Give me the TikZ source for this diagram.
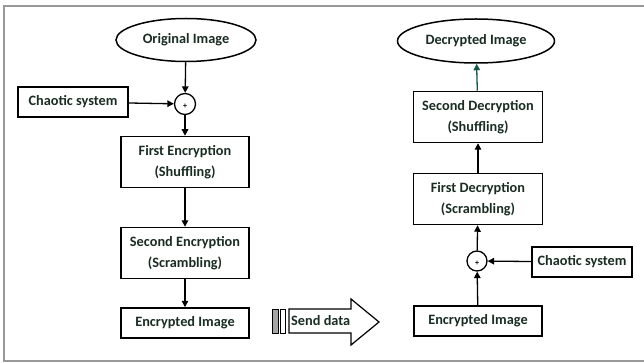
\documentclass[tikz,border=0pt]{standalone}
\usepackage{fontspec}
\setmainfont{Carlito}
\usepackage{tikz}
\usetikzlibrary{positioning,arrows.meta,shapes.geometric}

\definecolor{textdk}{RGB}{25,45,35}
\definecolor{linkgr}{RGB}{20,90,75}

\begin{document}
\begin{tikzpicture}[
  x=1pt, y=-1pt,
  >={Triangle[length=6.5pt,width=6.5pt]},
  every node/.style={font=\fontsize{14.3}{21}\selectfont\bfseries, text=textdk},
  imgellipse/.style={ellipse, draw, line width=1.5pt, inner sep=0pt},
  stagebox/.style={draw, line width=1.5pt, minimum width=128pt, minimum height=51pt, inner sep=2pt, align=center},
  flatbox/.style={draw, line width=1.5pt, minimum height=30pt, inner sep=2pt},
  mixer/.style={circle, draw, line width=1.3pt, minimum size=21pt, inner sep=0pt},
  plus/.style={font=\fontsize{8}{8}\selectfont\bfseries, text=black, inner sep=0pt},
  link/.style={->, line width=1.3pt},
]
  \useasboundingbox (0,0) rectangle (644,363);
  % Frame
  \draw[gray!80, line width=1.5pt] (644,6) -- (4,6) -- (4,361) -- (644,361);

  % Encryption side
  \node[imgellipse, minimum width=140pt, minimum height=43pt] (orig) at (186,40) {Original Image};
  \node[mixer] (mixL) at (185,104) {};
  \node[plus] (plusL) at (185,106) {+};
  \node[flatbox, minimum width=110pt] (chaosL) at (73,102) {Chaotic system};
  \node[stagebox] (enc1) at (185,162) {First Encryption\\(Shuffling)};
  \node[stagebox] (enc2) at (185,253) {Second Encryption\\(Scrambling)};
  \node[flatbox, minimum width=128pt] (cipherL) at (185,323) {Encrypted Image};

  \draw[link] (orig) -- (mixL);
  \draw[link] (chaosL) -- (mixL);
  \draw[link] (mixL) -- (enc1);
  \draw[link] (enc1) -- (enc2);
  \draw[link] (enc2) -- (cipherL);

  % Send data arrow
  \draw[fill=gray!70, line width=0.8pt] (272,309) rectangle (278,333);
  \draw[line width=0.8pt] (280,309) rectangle (285,333);
  \draw[line width=1.2pt] (289,309) -- (351,309) -- (351,299) -- (379,322)
    -- (351,345) -- (351,333) -- (289,333) -- cycle;
  \node[anchor=west, inner sep=0pt] (send) at (291,321) {Send data};

  % Decryption side
  \node[imgellipse, minimum width=157pt, minimum height=44pt] (decimg) at (476,41) {Decrypted Image};
  \node[stagebox, minimum width=129pt] (dec2) at (478,117) {Second Decryption\\(Shuffling)};
  \node[stagebox, minimum width=129pt] (dec1) at (478,199) {First Decryption\\(Scrambling)};
  \node[mixer, minimum size=20pt] (mixR) at (477,261) {};
  \node[plus] (plusR) at (477,263) {+};
  \node[flatbox, minimum width=100pt] (chaosR) at (582,262) {Chaotic system};
  \node[flatbox, minimum width=128pt] (cipherR) at (478,321) {Encrypted Image};

  \draw[link] (cipherR) -- (mixR);
  \draw[link] (chaosR) -- (mixR);
  \draw[link] (mixR) -- (dec1);
  \draw[link] (dec1) -- (dec2);
  \draw[link, linkgr] (dec2) -- (decimg);
\end{tikzpicture}
\end{document}
